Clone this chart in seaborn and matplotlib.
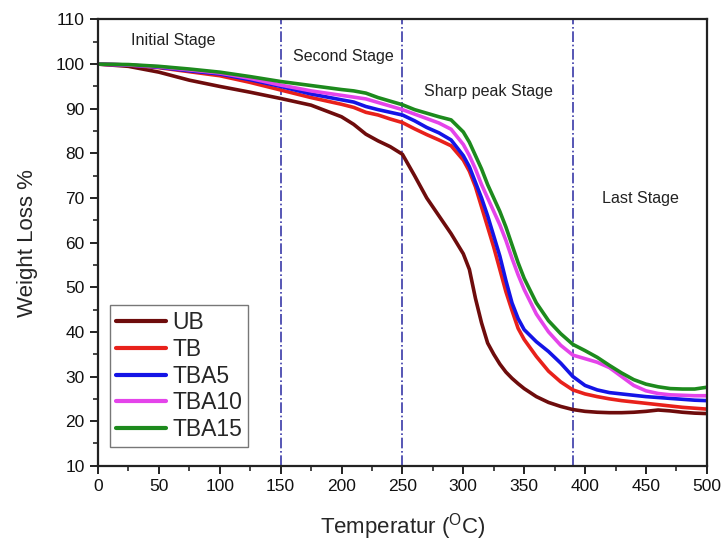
import numpy as np
import pandas as pd
import matplotlib
matplotlib.use("Agg")
import matplotlib.pyplot as plt
import seaborn as sns
from matplotlib.ticker import MultipleLocator

sns.set_theme(style="ticks")
plt.rcParams["font.family"] = ["Liberation Sans", "DejaVu Sans"]
plt.rcParams["mathtext.fontset"] = "custom"
plt.rcParams["mathtext.rm"] = "Liberation Sans"

# Temperature (°C) sample points
temperature = [0, 25, 50, 75, 100, 125, 150, 175, 200, 210, 220, 230, 240, 250,
               260, 270, 280, 290, 300, 305, 310, 315, 320, 325, 330, 335, 340,
               345, 350, 360, 370, 380, 390, 400, 410, 420, 430, 440, 450, 460,
               470, 480, 490, 500]

# Remaining weight (%) for each sample
ub = [100, 99.5, 98.2, 96.4, 95.0, 93.7, 92.3, 90.8, 88.2, 86.5, 84.3, 82.8, 81.5, 79.8,
      75.0, 70.0, 66.0, 62.0, 57.5, 54.0, 47.5, 42.0, 37.5, 35.0, 32.8, 31.0, 29.6,
      28.4, 27.3, 25.5, 24.2, 23.3, 22.6, 22.2, 22.0, 21.9, 21.9, 22.0, 22.2, 22.5,
      22.3, 22.0, 21.8, 21.7]
tb = [100, 99.8, 99.2, 98.3, 97.4, 95.9, 94.2, 92.5, 91.0, 90.3, 89.2, 88.6, 87.7, 86.9,
      85.5, 84.2, 83.0, 81.7, 78.5, 76.0, 72.5, 68.0, 63.5, 59.0, 54.0, 49.0, 44.8,
      40.8, 38.3, 34.5, 31.2, 28.8, 27.0, 26.1, 25.5, 25.0, 24.6, 24.3, 24.0, 23.7,
      23.4, 23.1, 22.9, 22.7]
tba5 = [100, 99.8, 99.3, 98.5, 97.8, 96.5, 95.0, 93.3, 92.0, 91.5, 90.5, 89.8, 89.2, 88.6,
        87.3, 85.8, 84.6, 83.0, 79.5, 77.0, 73.5, 70.0, 66.0, 61.5, 57.0, 51.5, 46.5,
        43.0, 40.5, 37.8, 35.6, 33.0, 30.0, 28.0, 27.0, 26.4, 26.1, 25.8, 25.5, 25.3,
        25.1, 24.9, 24.7, 24.6]
tba10 = [100, 99.8, 99.4, 98.7, 98.0, 96.8, 95.3, 94.0, 93.0, 92.6, 92.2, 91.4, 90.6, 89.8,
         88.8, 87.8, 86.8, 85.4, 82.0, 79.5, 76.5, 73.0, 70.0, 67.0, 64.0, 60.5, 56.5,
         52.8, 49.5, 44.0, 40.0, 37.0, 34.8, 34.0, 33.2, 32.0, 30.0, 28.0, 26.8, 26.2,
         25.9, 25.8, 25.7, 25.7]
tba15 = [100, 99.9, 99.5, 98.9, 98.2, 97.2, 96.1, 95.2, 94.3, 94.0, 93.5, 92.5, 91.7, 90.9,
         89.8, 89.0, 88.2, 87.5, 84.8, 82.5, 79.5, 76.5, 73.0, 70.0, 67.0, 63.5, 59.5,
         55.5, 52.0, 46.5, 42.5, 39.6, 37.2, 35.8, 34.3, 32.5, 30.8, 29.3, 28.3, 27.7,
         27.3, 27.2, 27.2, 27.6]

samples = ["UB", "TB", "TBA5", "TBA10", "TBA15"]
colors = ["#6e0c0c", "#e8211b", "#1414e6", "#e444ea", "#1d8a1d"]

# Stage boundaries and labels
stage_bounds = [150, 250, 390]
stage_labels = ["Initial Stage", "Second Stage", "Sharp peak Stage", "Last Stage"]
stage_pos = [(27, 105.2), (160, 101.8), (268, 93.8), (414, 69.8)]

df = pd.DataFrame({
    "Temperature": temperature * len(samples),
    "Weight": ub + tb + tba5 + tba10 + tba15,
    "Sample": [s for s in samples for _ in temperature],
})

fig = plt.figure(figsize=(7.22, 5.41), dpi=100)
ax = fig.add_axes([0.1357, 0.139, 0.8433, 0.825])

sns.lineplot(data=df, x="Temperature", y="Weight", hue="Sample",
             hue_order=samples, palette=colors, linewidth=2.6, ax=ax,
             legend=True)

for xb in stage_bounds:
    ax.axvline(xb, color="#3a3aa8", linestyle="-.", linewidth=1.2, zorder=1)

for label, (tx, ty) in zip(stage_labels, stage_pos):
    ax.text(tx, ty, label, fontsize=11.6, color="#222222", ha="left", va="center")

ax.set_xlim(0, 500)
ax.set_ylim(10, 110)
ax.xaxis.set_major_locator(MultipleLocator(50))
ax.xaxis.set_minor_locator(MultipleLocator(25))
ax.yaxis.set_major_locator(MultipleLocator(10))
ax.yaxis.set_minor_locator(MultipleLocator(5))
ax.tick_params(which="major", direction="out", length=6, width=1.3, labelsize=12.5,
               colors="#111111")
ax.tick_params(which="minor", direction="out", length=3.5, width=1.2)
for sp in ax.spines.values():
    sp.set_linewidth(1.6)
    sp.set_color("#222222")

ax.set_xlabel(r"Temperatur ($^{\mathrm{O}}$C)", fontsize=16, labelpad=12)
ax.set_ylabel("Weight Loss %", fontsize=16, labelpad=13)

leg = ax.legend(loc="lower left", bbox_to_anchor=(0.02, 0.043), borderaxespad=0,
                fontsize=16.5, frameon=True, fancybox=False, edgecolor="#555555",
                handlelength=2.2, handletextpad=0.25, labelspacing=0.16,
                borderpad=0.25)
leg.get_frame().set_linewidth(1.0)
for line in leg.get_lines():
    line.set_linewidth(3)

fig.savefig("out.png", dpi=100)
